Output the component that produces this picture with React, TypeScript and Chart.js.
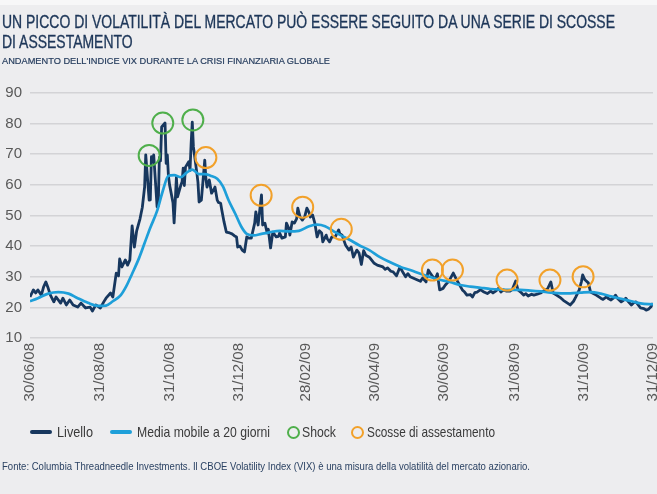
import React, { useEffect, useLayoutEffect, useRef } from "react";
import { Chart, registerables } from "chart.js";

Chart.register(...registerables);

// Etichette dell'asse X (date)
const tickLabels = [
  "30/06/08", "31/08/08", "31/10/08", "31/12/08", "28/02/09",
  "30/04/09", "30/06/09", "31/08/09", "31/10/09", "31/12/09",
];

// Livello VIX: giorni dal 30/06/2008 e valori
const livelloGiorni = [
  0, 3, 5, 7, 10, 12, 14, 16, 18, 21,
  23, 27, 29, 32, 35, 38, 42, 45, 49, 53,
  55, 58, 62, 65, 67, 71, 73, 76, 78, 79,
  81, 84, 86, 88, 90, 92, 94, 97, 99, 101,
  102, 105, 106, 107, 108, 109, 112, 113, 114, 115,
  116, 119, 120, 121, 122, 123, 126, 127, 128, 129,
  130, 133, 134, 135, 136, 137, 140, 141, 142, 143,
  144, 147, 148, 149, 151, 154, 155, 156, 158, 160,
  162, 163, 165, 166, 168, 169, 171, 173, 176, 178,
  180, 182, 183, 185, 187, 189, 191, 193, 195, 196,
  198, 199, 201, 204, 205, 207, 209, 210, 212, 214,
  217, 219, 220, 222, 225, 226, 228, 229, 231, 233,
  235, 236, 238, 240, 242, 244, 246, 247, 249, 251,
  253, 255, 257, 258, 261, 262, 264, 266, 269, 272,
  273, 275, 278, 281, 283, 285, 288, 290, 292, 294,
  296, 299, 303, 306, 311, 313, 315, 318, 320, 323,
  326, 329, 331, 333, 335, 338, 341, 344, 346, 349,
  351, 353, 355, 357, 359, 361, 364, 366, 369, 373,
  376, 379, 381, 383, 385, 388, 390, 392, 394, 397,
  400, 403, 406, 408, 411, 413, 415, 417, 420, 423,
  425, 428, 430, 433, 435, 437, 439, 442, 444, 447,
  450, 452, 454, 456, 459, 461, 464, 468, 470, 472,
  474, 476, 479, 481, 484, 486, 487, 489, 492, 494,
  496, 499, 501, 503, 505, 508, 510, 512, 514, 516,
  518, 521, 523, 525, 527, 530, 532, 534, 536, 538,
  541, 543, 545, 547, 549,
];
const livelloValori = [
  23.4, 25.7, 24.7, 25.7, 24.0, 26.7, 28.3, 26.3, 24.0, 21.8,
  23.4, 21.4, 23.0, 20.8, 22.4, 20.8, 20.1, 21.4, 19.8, 20.1,
  18.8, 20.8, 19.8, 21.8, 23.0, 24.7, 23.4, 31.2, 30.3, 35.8,
  33.2, 35.5, 33.8, 35.5, 46.6, 39.7, 45.0, 49.0, 52.7, 59.3,
  69.8, 55.0, 55.1, 69.2, 67.6, 69.8, 52.8, 53.1, 69.0, 67.8,
  78.9, 80.2, 67.0, 69.8, 62.9, 60.0, 54.2, 47.6, 54.6, 62.5,
  56.1, 60.0, 61.0, 65.5, 59.8, 65.8, 67.6, 64.7, 73.5, 80.5,
  72.4, 64.0, 60.9, 54.4, 55.0, 68.1, 62.0, 59.3, 61.6, 57.3,
  58.5, 59.3, 55.0, 54.3, 54.0, 51.8, 47.9, 44.6, 44.3, 44.0,
  43.4, 43.0, 39.7, 40.0, 38.7, 38.1, 43.0, 42.6, 42.6, 44.3,
  47.5, 51.2, 46.9, 56.7, 46.9, 47.5, 44.3, 45.5, 39.4, 44.6,
  43.0, 43.2, 44.3, 42.6, 43.0, 47.5, 45.8, 43.6, 47.9, 47.5,
  49.0, 52.4, 49.5, 48.5, 49.5, 52.4, 50.9, 49.5, 50.2, 47.5,
  43.0, 45.0, 44.3, 41.4, 43.6, 42.4, 41.4, 43.0, 43.0, 45.3,
  44.1, 43.6, 40.4, 38.7, 39.7, 36.4, 38.7, 37.7, 34.0, 38.5,
  37.0, 36.4, 34.5, 33.8, 33.2, 32.4, 32.9, 31.8, 31.6, 30.3,
  33.2, 31.2, 30.0, 31.0, 30.0, 29.5, 29.0, 28.5, 29.6, 28.3,
  32.2, 31.0, 30.0, 29.2, 31.0, 25.7, 26.2, 27.3, 28.5, 31.2,
  29.0, 27.0, 25.7, 25.0, 24.0, 24.2, 23.4, 24.8, 25.0, 25.8,
  25.0, 24.5, 25.3, 24.7, 25.5, 26.3, 25.0, 25.7, 25.3, 25.3,
  25.8, 28.6, 25.7, 24.8, 24.0, 24.5, 23.7, 24.3, 24.0, 24.3,
  24.7, 25.2, 25.7, 26.0, 28.3, 24.7, 24.0, 23.0, 22.3, 21.8,
  21.3, 20.8, 22.0, 23.4, 25.7, 28.5, 30.6, 29.0, 28.0, 25.0,
  24.6, 24.0, 23.5, 23.0, 22.6, 23.4, 22.8, 22.4, 23.0, 24.0,
  22.8, 21.8, 22.3, 23.0, 22.0, 20.8, 21.5, 21.8, 20.8, 19.8,
  19.6, 19.1, 19.4, 20.1, 21.4,
];

// Media mobile a 20 giorni
const mediaGiorni = [
  0, 7, 16, 25, 34, 42, 51, 60, 67, 73,
  80, 85, 90, 96, 101, 106, 112, 117, 122, 127,
  133, 138, 143, 149, 154, 159, 165, 170, 175, 181,
  186, 191, 197, 204, 211, 220, 228, 237, 246, 253,
  260, 267, 274, 282, 290, 299, 308, 317, 326, 335,
  344, 352, 361, 370, 379, 388, 397, 406, 414, 423,
  432, 441, 450, 459, 468, 476, 485, 494, 503, 512,
  521, 530, 538, 549,
];
const mediaValori = [
  22.0, 23.0, 24.5, 25.0, 24.5, 23.0, 21.5, 20.5, 20.6, 22.0,
  24.0, 27.0, 31.0, 36.0, 41.0, 46.0, 51.5, 58.0, 63.0, 63.2,
  62.5, 64.0, 65.0, 63.5, 63.5, 63.0, 62.0, 59.5, 55.0, 50.5,
  46.5, 44.0, 43.5, 44.0, 44.5, 45.0, 44.8, 45.0, 46.5, 47.0,
  46.5, 45.0, 43.5, 42.0, 40.3, 38.7, 36.5, 34.8, 33.3, 32.2,
  31.0, 30.0, 29.0, 28.3, 27.3, 26.8, 26.4, 26.0, 25.8, 25.7,
  25.7, 25.5, 25.2, 24.8, 24.6, 24.6, 24.8, 25.0, 24.5, 23.6,
  22.8, 22.0, 21.3, 21.0,
];

// Shock e scosse di assestamento
const shockGiorni = [105, 117, 143.5];
const shockValori = [69.6, 80.2, 81.2];
const scosseGiorni = [155, 203.7, 240.3, 274.3, 354.6, 372.3, 420.4, 458.2, 487.4];
const scosseValori = [68.9, 56.6, 52.7, 45.5, 32.2, 32.2, 28.9, 28.9, 30.0];

const NAVY = "#17375E";
const LIGHT = "#1E9FD9";
const GREEN = "#4FAF4B";
const ORANGE = "#F2A12A";
const REGULAR = '"Liberation Sans", Arial, sans-serif';

const base = Date.UTC(2008, 5, 30);
function dayOf(label: string): number {
  const [d, m, y] = label.split("/").map(Number);
  return Math.round((Date.UTC(2000 + y, m - 1, d) - base) / 86400000);
}
const tickDays = tickLabels.map(dayOf);

function zip(xs: number[], ys: number[]) {
  return xs.map((x, i) => ({ x, y: ys[i] }));
}

// Testo compresso orizzontalmente fino alla larghezza voluta
function FitText(props: {
  text: React.ReactNode;
  left: number;
  top: number;
  width: number;
  style: React.CSSProperties;
  measureFirst?: boolean;
}) {
  const outer = useRef<HTMLDivElement | null>(null);
  const first = useRef<HTMLSpanElement | null>(null);
  useLayoutEffect(() => {
    const fit = () => {
      const el = outer.current;
      const m = props.measureFirst ? first.current : outer.current;
      if (!el || !m) return;
      el.style.transform = "none";
      const w = m.getBoundingClientRect().width;
      if (w > 0) el.style.transform = `scaleX(${props.width / w})`;
    };
    fit();
    if ((document as any).fonts && (document as any).fonts.ready) {
      (document as any).fonts.ready.then(fit);
    }
  });
  return (
    <div
      ref={outer}
      style={{
        position: "absolute",
        left: props.left,
        top: props.top,
        whiteSpace: "nowrap",
        transformOrigin: "0 0",
        ...props.style,
      }}
    >
      {props.measureFirst ? (
        <>
          <span ref={first}>
            UN PICCO DI VOLATILITÀ DEL MERCATO PUÒ ESSERE SEGUITO DA UNA SERIE DI SCOSSE
          </span>
          <br />
          <span>DI ASSESTAMENTO</span>
        </>
      ) : (
        <span style={{ display: "inline-block" }}>{props.text}</span>
      )}
    </div>
  );
}

export default function App() {
  const ref = useRef<HTMLCanvasElement | null>(null);

  useEffect(() => {
    if (!ref.current) return;
    const chart = new Chart(ref.current, {
      type: "line",
      data: {
        datasets: [
          {
            label: "Shock",
            data: zip(shockGiorni, shockValori),
            showLine: false,
            pointStyle: "circle",
            pointRadius: 10.5,
            pointBorderWidth: 2,
            pointBorderColor: GREEN,
            pointBackgroundColor: "rgba(0,0,0,0)",
            borderColor: GREEN,
            backgroundColor: "rgba(0,0,0,0)",
          },
          {
            label: "Scosse di assestamento",
            data: zip(scosseGiorni, scosseValori),
            showLine: false,
            pointStyle: "circle",
            pointRadius: 10.5,
            pointBorderWidth: 2,
            pointBorderColor: ORANGE,
            pointBackgroundColor: "rgba(0,0,0,0)",
            borderColor: ORANGE,
            backgroundColor: "rgba(0,0,0,0)",
          },
          {
            label: "Media mobile a 20 giorni",
            data: zip(mediaGiorni, mediaValori),
            borderColor: LIGHT,
            borderWidth: 2.7,
            pointRadius: 0,
            cubicInterpolationMode: "monotone",
            fill: false,
          },
          {
            label: "Livello",
            data: zip(livelloGiorni, livelloValori),
            borderColor: NAVY,
            borderWidth: 2.8,
            pointRadius: 0,
            tension: 0,
            borderJoinStyle: "round",
            fill: false,
          },
        ],
      },
      options: {
        animation: false,
        responsive: false,
        layout: { autoPadding: false, padding: { top: 93, right: 4, bottom: 86, left: 0 } },
        plugins: {
          legend: { display: false },
          tooltip: { enabled: false },
        },
        scales: {
          x: {
            type: "linear",
            min: 0,
            max: 549,
            grid: { display: false, drawTicks: false },
            border: { display: false },
            afterBuildTicks: (s: any) => {
              s.ticks = tickDays.map((v) => ({ value: v }));
            },
            afterFit: (s: any) => {
              s.height = 70;
              s.paddingLeft = 0;
              s.paddingRight = 0;
            },
            ticks: {
              autoSkip: false,
              minRotation: 90,
              maxRotation: 90,
              padding: 5,
              color: "#595959",
              font: { family: REGULAR, size: 15 },
              callback: (v: any) => {
                const i = tickDays.indexOf(Number(v));
                return i >= 0 ? tickLabels[i] : "";
              },
            },
          },
          y: {
            min: 10,
            max: 90,
            grid: { color: "#D3D3D6", lineWidth: 1.6, drawTicks: false },
            border: { display: false },
            afterFit: (s: any) => {
              s.width = 30;
            },
            ticks: {
              stepSize: 10,
              padding: 8,
              color: "#595959",
              font: { family: REGULAR, size: 15 },
            },
          },
        },
      },
    } as any);
    return () => chart.destroy();
  }, []);

  const legendText: React.CSSProperties = {
    fontFamily: REGULAR,
    fontSize: 15,
    lineHeight: "18px",
    color: "#3A3A3A",
  };
  const swatch = (left: number, color: string): React.CSSProperties => ({
    position: "absolute",
    left,
    top: 430,
    width: 22,
    height: 4,
    borderRadius: 2,
    background: color,
  });
  const ring = (cx: number, color: string): React.CSSProperties => ({
    position: "absolute",
    left: cx - 6.5,
    top: 432 - 6.5,
    width: 9,
    height: 9,
    borderRadius: "50%",
    border: `2px solid ${color}`,
  });

  return (
    <div
      style={{
        position: "absolute",
        left: 0,
        top: 0,
        width: 657,
        height: 494,
        background: "#EDEDEF",
        overflow: "hidden",
      }}
    >
      <div style={{ position: "absolute", left: 0, top: 0, width: 657, height: 5, background: "#F7F7F8" }} />
      <canvas
        ref={ref}
        width={657}
        height={494}
        style={{ position: "absolute", left: 0, top: 0, width: 657, height: 494 }}
      />
      <FitText
        measureFirst
        text={null}
        left={2}
        top={12}
        width={613}
        style={{
          fontFamily: REGULAR,
          fontSize: 18.5,
          lineHeight: "20px",
          color: "#1D3658",
          WebkitTextStroke: "0.35px #1D3658",
        }}
      />
      <FitText
        text="ANDAMENTO DELL'INDICE VIX DURANTE LA CRISI FINANZIARIA GLOBALE"
        left={2}
        top={55}
        width={328}
        style={{
          fontFamily: REGULAR,
          fontSize: 9.5,
          lineHeight: "11px",
          color: "#263D5E",
          WebkitTextStroke: "0.2px #263D5E",
        }}
      />

      <div style={swatch(30, NAVY)} />
      <FitText text="Livello" left={57} top={423} width={36} style={legendText} />
      <div style={swatch(110, LIGHT)} />
      <FitText text="Media mobile a 20 giorni" left={137} top={423} width={133} style={legendText} />
      <div style={ring(293, GREEN)} />
      <FitText text="Shock" left={302} top={423} width={34} style={legendText} />
      <div style={ring(357, ORANGE)} />
      <FitText text="Scosse di assestamento" left={367} top={423} width={128} style={legendText} />

      <FitText
        text="Fonte: Columbia Threadneedle Investments. Il CBOE Volatility Index (VIX) è una misura della volatilità del mercato azionario."
        left={2}
        top={460}
        width={528}
        style={{ fontFamily: REGULAR, fontSize: 10.5, lineHeight: "12px", color: "#2B4263" }}
      />
    </div>
  );
}
